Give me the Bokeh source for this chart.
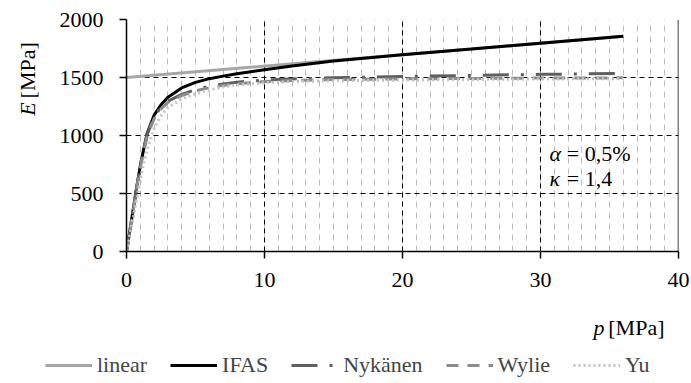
import math
from bokeh.plotting import figure
from bokeh.layouts import row, column
from bokeh.models import Range1d, SingleIntervalTicker, Legend, LegendItem, Span
from bokeh.core.properties import value
from bokeh.embed import file_html
from bokeh.resources import INLINE

# ---- data ----
p_lin = [0, 36]
E_lin = [1500, 1855]

p_curve = [0, 0.25, 0.5, 0.75, 1.0, 1.25, 1.5, 2.0, 2.5, 3.0, 4.0, 5.0, 6.0, 7.0, 8.0,
           10.0, 12.0, 15.0, 20.0, 25.0, 30.0, 36.0]
E_ifas = [0, 185, 375, 560, 740, 885, 1020, 1175, 1265, 1330, 1410, 1458, 1490, 1512, 1532,
          1567, 1600, 1642, 1697, 1746, 1796, 1855]
E_nyk = [0, 185, 375, 560, 740, 880, 1010, 1160, 1245, 1295, 1355, 1395, 1425, 1445, 1460,
         1478, 1488, 1497, 1508, 1518, 1527, 1535]
E_wylie = [0, 180, 365, 550, 725, 865, 995, 1145, 1230, 1285, 1345, 1385, 1412, 1432, 1447,
           1465, 1474, 1482, 1488, 1492, 1495, 1497]
E_yu = [0, 150, 300, 460, 620, 760, 880, 1060, 1170, 1240, 1315, 1360, 1392, 1418, 1436,
        1455, 1465, 1472, 1478, 1483, 1487, 1490]

series_names = ["linear", "IFAS", "Nykänen", "Wylie", "Yu"]
series_styles = [
    dict(line_color="#a6a6a6", line_width=3),
    dict(line_color="black", line_width=3),
    dict(line_color="#5f5f5f", line_width=3, line_dash="26 12 3 12"),
    dict(line_color="#8c8c8c", line_width=3, line_dash="12 9"),
    dict(line_color="#c4c4c4", line_width=3, line_dash="2 3"),
]
series_data = [(p_lin, E_lin), (p_curve, E_ifas), (p_curve, E_nyk),
               (p_curve, E_wylie), (p_curve, E_yu)]

FONT = "Liberation Serif"
FS = "22px"
W, H = 691, 383
TOP_H = 300          # height of the upper row (plot + y title)
YT_W = 40            # width of the y-title strip


def blank(width, height):
    f = figure(width=width, height=height, output_backend="svg", toolbar_location=None,
               x_range=Range1d(0, width), y_range=Range1d(0, height),
               min_border=0, min_border_left=0, min_border_right=0,
               min_border_top=0, min_border_bottom=0)
    f.axis.visible = False
    f.grid.visible = False
    f.outline_line_color = None
    f.background_fill_color = "white"
    f.border_fill_color = "white"
    return f


def txt(f, x, y, t, italic=False, **kw):
    f.text(x=[x], y=[y], text=[t], text_font=value(FONT), text_font_size=value(FS),
           text_font_style="italic" if italic else "normal", text_color="black", **kw)


# ---- main plot ----
p = figure(width=W - YT_W, height=TOP_H, output_backend="svg", toolbar_location=None,
           x_range=Range1d(0, 40), y_range=Range1d(0, 2000),
           min_border_left=126 - YT_W, min_border_right=13, min_border_top=19,
           min_border_bottom=TOP_H - 251)
p.outline_line_color = None
p.background_fill_color = "white"
p.border_fill_color = "white"

p.xaxis.ticker = SingleIntervalTicker(interval=10, num_minor_ticks=10)
p.yaxis.ticker = SingleIntervalTicker(interval=500, num_minor_ticks=0)
for ax in (p.xaxis, p.yaxis):
    ax.axis_line_color = "black"
    ax.axis_line_width = 1.5
    ax.major_tick_line_color = "black"
    ax.major_tick_line_width = 1.5
    ax.major_tick_out = 7
    ax.major_tick_in = 0
    ax.minor_tick_line_color = None
    ax.major_label_text_font = FONT
    ax.major_label_text_font_size = FS
    ax.major_label_text_color = "black"
p.xaxis.major_label_standoff = 14
p.yaxis.major_label_standoff = 16

p.xgrid.grid_line_color = "black"
p.xgrid.grid_line_dash = "5 4"
p.xgrid.grid_line_width = 1
p.xgrid.minor_grid_line_color = "#bdbdbd"
p.xgrid.minor_grid_line_dash = "6 5"
p.xgrid.minor_grid_line_width = 1
p.ygrid.grid_line_color = "black"
p.ygrid.grid_line_dash = "5 4"
p.ygrid.grid_line_width = 1
p.add_layout(Span(location=40, dimension="height", line_color="black", line_width=1.5))

for (xs, ys), st in zip(series_data, series_styles):
    p.line(xs, ys, **st)

# parameter annotation inside the plot
txt(p, 30.65, 842, "α", italic=True, text_baseline="middle", text_align="left")
txt(p, 31.9, 842, "= 0,5%", text_baseline="middle", text_align="left")
txt(p, 30.65, 627, "κ", italic=True, text_baseline="middle", text_align="left")
txt(p, 31.9, 627, "= 1,4", text_baseline="middle", text_align="left")

# ---- y title strip ----
yt = blank(YT_W, TOP_H)
txt(yt, 27, TOP_H - 107, "E", italic=True, angle=math.pi / 2,
    text_baseline="middle", text_align="right")
txt(yt, 27, TOP_H - 102, "[MPa]", angle=math.pi / 2,
    text_baseline="middle", text_align="left")

# ---- bottom strip: x title and legend ----
BH = H - TOP_H
bt = blank(W, BH)
txt(bt, 593, H - 327, "p", italic=True, text_baseline="middle", text_align="left")
txt(bt, 664, H - 327, "[MPa]", text_baseline="middle", text_align="right")

# legend proxies (kept outside the visible range of the strip)
leg_r = [bt.line([-100, -90], [-100, -100], **st) for st in series_styles]
legend = Legend(items=[LegendItem(label=n, renderers=[r]) for n, r in zip(series_names, leg_r)],
                location=(45, 5), orientation="horizontal",
                glyph_width=47, glyph_height=24, label_height=24,
                label_standoff=5, spacing=23, padding=0, margin=0,
                border_line_color=None, background_fill_alpha=0,
                label_text_font=FONT, label_text_font_size=FS)
bt.add_layout(legend, "center")

layout = column(row(yt, p, spacing=0), bt, spacing=0)
open("out.html", "w").write(file_html(layout, INLINE))
